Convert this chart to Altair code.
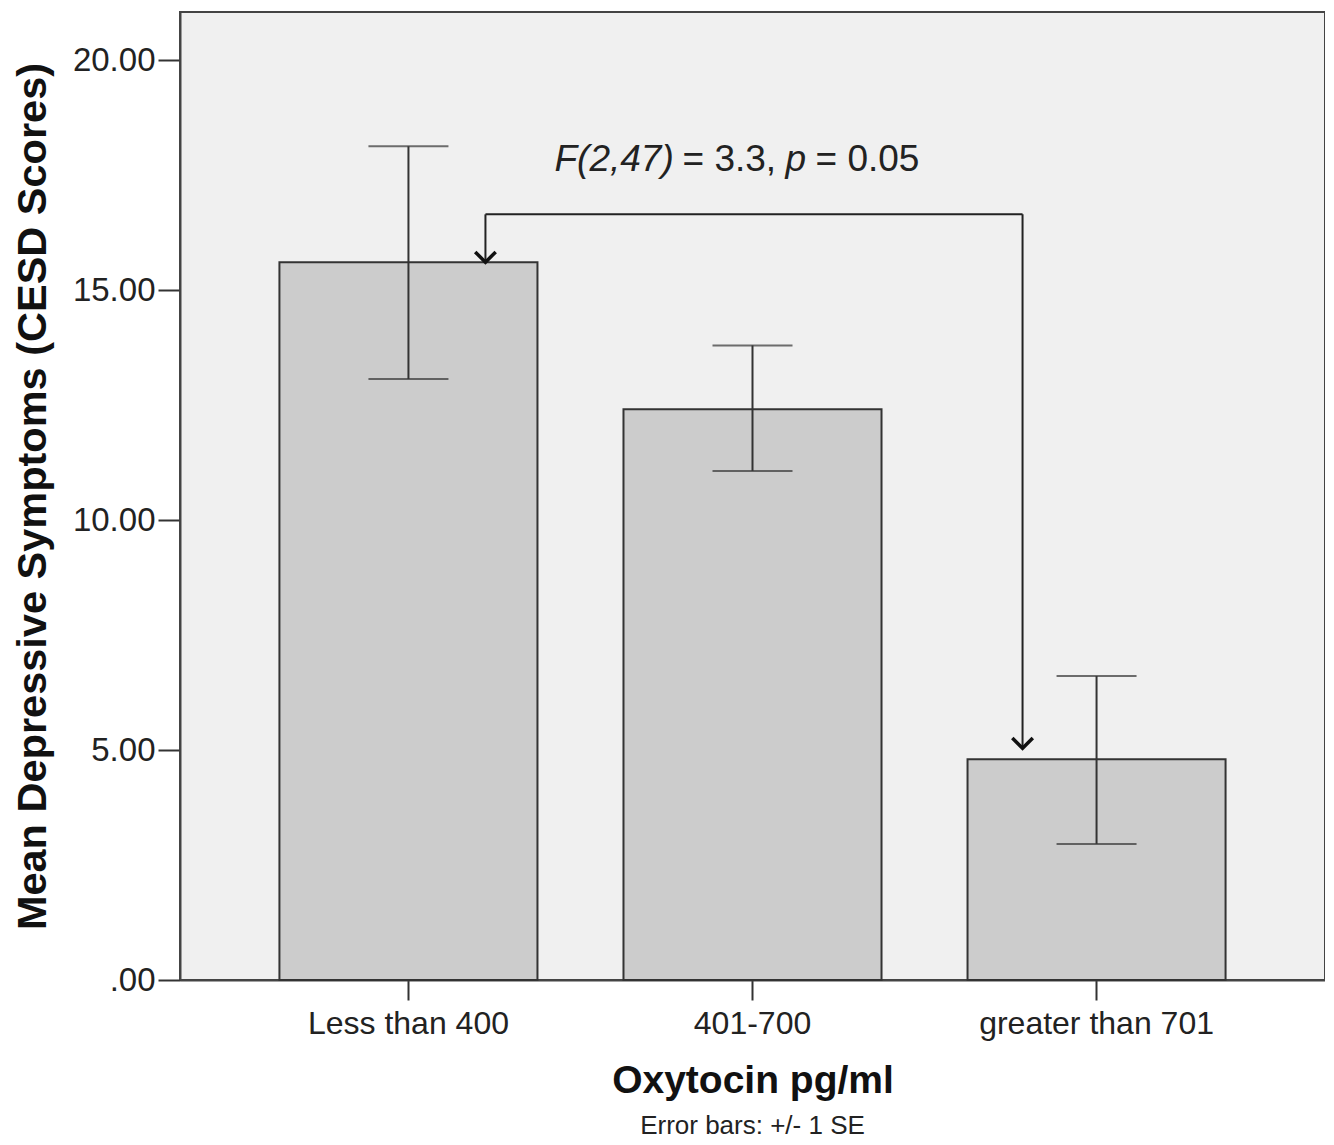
import altair as alt
import pandas as pd

categories = ["Less than 400", "401-700", "greater than 701"]
means = [15.61, 12.41, 4.80]
se_low = [13.07, 11.07, 2.96]
se_high = [18.13, 13.80, 6.61]

# bracket annotation (data coordinates)
bracket_y = 16.65
arrow_from = "Less than 400"
arrow_to = "greater than 701"
arrow_tip_left = 15.61
arrow_tip_right = 5.04
annot_y = 17.83

bars_df = pd.DataFrame({"cat": categories, "mean": means, "lo": se_low, "hi": se_high})

xscale = alt.Scale(domain=categories, paddingInner=0.25, paddingOuter=0.289)
yscale = alt.Scale(domain=[0, 21.05], nice=False, zero=True)

x_enc = alt.X("cat:N", scale=xscale, sort=categories,
              axis=alt.Axis(title="Oxytocin pg/ml", labelAngle=0, labelFontSize=32, labelLimit=0,
                            labelColor="#222", titleFontSize=39, titleFontWeight="bold",
                            titleColor="#111", tickSize=20, tickWidth=2, tickColor="#333",
                            domainColor="#444", domainWidth=2, labelPadding=8, titlePadding=22,
                            labelFont="Liberation Sans", titleFont="Liberation Sans"))
y_axis = alt.Axis(title="Mean Depressive Symptoms (CESD Scores)", values=[0, 5, 10, 15, 20],
                  labelExpr="datum.value == 0 ? '.00' : format(datum.value, '.2f')",
                  labelFontSize=33, labelColor="#222", titleFontSize=41.5, titleFontWeight="bold",
                  titleColor="#111", tickSize=22, tickWidth=2, tickColor="#333",
                  domainColor="#444", domainWidth=2, labelPadding=3, titlePadding=18, grid=False,
                  labelFont="Liberation Sans", titleFont="Liberation Sans")

bars = alt.Chart(bars_df).mark_bar(fill="#cccccc", stroke="#333333", strokeWidth=2).encode(
    x=x_enc,
    y=alt.Y("mean:Q", scale=yscale, axis=y_axis),
)

err = alt.Chart(bars_df).mark_rule(color="#333333", strokeWidth=2).encode(
    x=alt.X("cat:N", scale=xscale, sort=categories),
    y=alt.Y("lo:Q", scale=yscale),
    y2="hi:Q",
)
cap_lo = alt.Chart(bars_df).mark_tick(color="#333333", thickness=2, size=80, orient="horizontal").encode(
    x=alt.X("cat:N", scale=xscale, sort=categories),
    y=alt.Y("lo:Q", scale=yscale),
)
cap_hi = alt.Chart(bars_df).mark_tick(color="#333333", thickness=2, size=80, orient="horizontal").encode(
    x=alt.X("cat:N", scale=xscale, sort=categories),
    y=alt.Y("hi:Q", scale=yscale),
)

br_df = pd.DataFrame({"a": [arrow_from], "b": [arrow_to], "y": [bracket_y]})
br_h = alt.Chart(br_df).mark_rule(color="#222", strokeWidth=2, xOffset=77, x2Offset=-74).encode(
    x=alt.X("a:N", scale=xscale, sort=categories),
    x2="b:N",
    y=alt.Y("y:Q", scale=yscale),
)
vert_df = pd.DataFrame({"cat": [arrow_from, arrow_to], "top": [bracket_y, bracket_y],
                        "tip": [arrow_tip_left, arrow_tip_right]})
br_vl = alt.Chart(vert_df.iloc[[0]]).mark_rule(color="#222", strokeWidth=2, xOffset=77).encode(
    x=alt.X("cat:N", scale=xscale, sort=categories),
    y=alt.Y("top:Q", scale=yscale), y2="tip:Q",
)
br_vr = alt.Chart(vert_df.iloc[[1]]).mark_rule(color="#222", strokeWidth=2, xOffset=-74).encode(
    x=alt.X("cat:N", scale=xscale, sort=categories),
    y=alt.Y("top:Q", scale=yscale), y2="tip:Q",
)
head_path = "M -1 -1 L 0 0 L 1 -1"
head_l = alt.Chart(vert_df.iloc[[0]]).mark_point(shape=head_path, filled=False, stroke="#111",
                                                 strokeWidth=3.5, size=420, xOffset=77, opacity=1).encode(
    x=alt.X("cat:N", scale=xscale, sort=categories),
    y=alt.Y("tip:Q", scale=yscale),
)
head_r = alt.Chart(vert_df.iloc[[1]]).mark_point(shape=head_path, filled=False, stroke="#111",
                                                 strokeWidth=3.5, size=420, xOffset=-74, opacity=1).encode(
    x=alt.X("cat:N", scale=xscale, sort=categories),
    y=alt.Y("tip:Q", scale=yscale),
)

segments = ["F(2,47)", "= 3.3,", "p", "= 0.05"]
seg_style = ["italic", "normal", "italic", "normal"]
seg_dx = [-198, -70, 33, 63]
annot_layers = []
for s, st, d in zip(segments, seg_style, seg_dx):
    df = pd.DataFrame({"cat": ["401-700"], "y": [annot_y], "t": [s]})
    annot_layers.append(
        alt.Chart(df).mark_text(align="left", baseline="middle", fontSize=37, fontStyle=st,
                                font="Liberation Sans", color="#222", dx=d).encode(
            x=alt.X("cat:N", scale=xscale, sort=categories),
            y=alt.Y("y:Q", scale=yscale),
            text="t:N",
        )
    )

chart = alt.layer(bars, err, cap_lo, cap_hi, br_h, br_vl, br_vr, head_l, head_r, *annot_layers).properties(
    width=1145, height=968,
    padding={"left": 4, "top": 4, "right": 0, "bottom": 0},
    title=alt.TitleParams("Error bars: +/- 1 SE", orient="bottom", fontSize=26, fontWeight="normal",
                          color="#222", font="Liberation Sans", offset=13, anchor="middle"),
).configure_view(fill="#f0f0f0", stroke="#444444", strokeWidth=2)

chart.save("out.html", embed_options={"renderer": "svg", "actions": False})
